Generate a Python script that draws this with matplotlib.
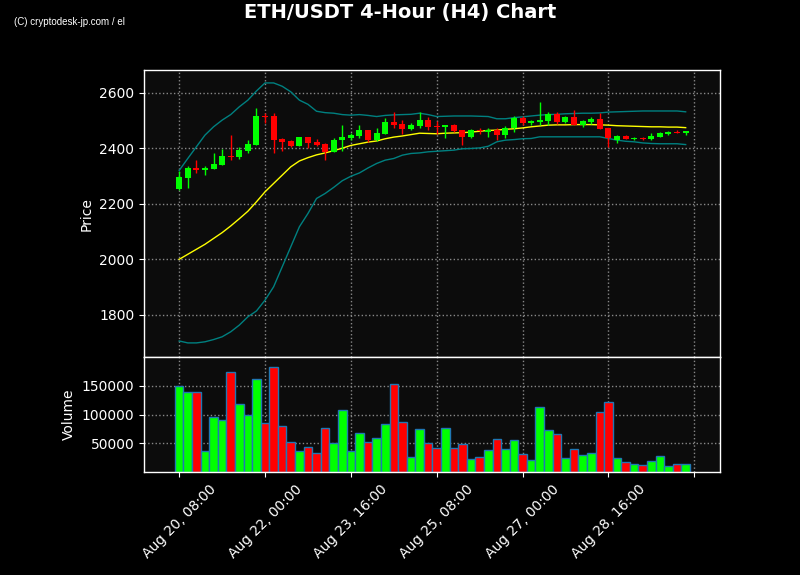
import numpy as np
import pandas as pd
import matplotlib
matplotlib.use("Agg")
import matplotlib.pyplot as plt
from matplotlib.ticker import MultipleLocator, FuncFormatter

# 4h candles
opens = [2252, 2293, 2328, 2322, 2324, 2340, 2371, 2368, 2390, 2411,
         2517, 2515, 2432, 2425, 2408, 2440, 2423, 2414, 2386, 2430,
         2436, 2444, 2465, 2430, 2450, 2494, 2486, 2468, 2479, 2501,
         2479, 2476, 2483, 2464, 2440, 2465, 2460, 2465, 2447, 2473,
         2509, 2490, 2494, 2497, 2522, 2494, 2512, 2485, 2494, 2504,
         2472, 2431, 2443, 2432, 2437, 2432, 2440, 2450, 2459, 2454]
highs = [2317, 2335, 2359, 2336, 2381, 2396, 2446, 2405, 2431, 2546,
         2528, 2527, 2438, 2429, 2442, 2442, 2434, 2417, 2436, 2483,
         2455, 2485, 2467, 2474, 2507, 2532, 2501, 2489, 2532, 2513,
         2497, 2483, 2486, 2465, 2468, 2472, 2474, 2472, 2479, 2515,
         2515, 2501, 2566, 2532, 2532, 2515, 2536, 2503, 2512, 2525,
         2472, 2446, 2446, 2442, 2441, 2453, 2458, 2462, 2467, 2461]
lows = [2248, 2255, 2309, 2305, 2324, 2340, 2357, 2362, 2383, 2411,
        2489, 2384, 2389, 2405, 2408, 2401, 2407, 2356, 2386, 2389,
        2429, 2435, 2424, 2426, 2450, 2472, 2452, 2466, 2471, 2464,
        2452, 2438, 2458, 2413, 2436, 2450, 2442, 2431, 2438, 2460,
        2485, 2482, 2485, 2485, 2486, 2491, 2485, 2476, 2486, 2468,
        2406, 2420, 2432, 2429, 2430, 2429, 2440, 2448, 2454, 2448]
closes = [2295, 2327, 2322, 2329, 2342, 2371, 2367, 2393, 2414, 2515,
          2513, 2430, 2423, 2408, 2440, 2419, 2412, 2387, 2431, 2440,
          2447, 2465, 2429, 2454, 2494, 2484, 2468, 2483, 2501, 2477,
          2476, 2483, 2461, 2440, 2465, 2461, 2465, 2447, 2471, 2508,
          2489, 2498, 2502, 2522, 2494, 2512, 2485, 2497, 2504, 2468,
          2435, 2443, 2432, 2437, 2433, 2443, 2454, 2459, 2455, 2461]
volumes = [149400, 139100, 139100, 37400, 96000, 90800, 173600, 118400, 99400, 161500,
           85600, 182200, 81000, 52900, 37400, 44300, 33900, 77000, 51100, 108000,
           37400, 68400, 52900, 59800, 83900, 152900, 87400, 27000, 75300, 51100,
           42500, 77000, 42500, 49400, 23600, 27000, 39100, 58000, 40800, 56300,
           32200, 21800, 113200, 73600, 66700, 25300, 40800, 30500, 33900, 104600,
           121800, 25300, 16700, 13200, 11500, 18400, 28700, 9800, 14900, 13200]

# indicator lines (yellow MA, bollinger upper/lower)
ma_line = [2000, 2018, 2036, 2054, 2075, 2096, 2120, 2146, 2173, 2207,
           2243, 2273, 2303, 2333, 2354, 2366, 2376, 2383, 2391, 2400,
           2410, 2416, 2422, 2426, 2434, 2440, 2444, 2449, 2454, 2453,
           2452, 2454, 2455, 2456, 2458, 2461, 2464, 2465, 2468, 2470,
           2473, 2477, 2480, 2483, 2484, 2484, 2485, 2485, 2485, 2484,
           2483, 2481, 2480, 2479, 2478, 2477, 2477, 2476, 2476, 2474]
bb_upper = [2320, 2363, 2405, 2447, 2477, 2501, 2521, 2549, 2573, 2606,
            2635, 2635, 2623, 2603, 2573, 2558, 2533, 2528, 2526, 2521,
            2519, 2521, 2518, 2514, 2518, 2520, 2521, 2522, 2526, 2521,
            2514, 2515, 2516, 2516, 2516, 2515, 2514, 2506, 2506, 2510,
            2513, 2516, 2519, 2521, 2522, 2524, 2525, 2526, 2526, 2527,
            2530, 2531, 2532, 2533, 2534, 2534, 2534, 2534, 2534, 2531]
bb_lower = [1706, 1699, 1699, 1703, 1711, 1721, 1739, 1763, 1793, 1814,
            1853, 1901, 1973, 2045, 2117, 2165, 2219, 2237, 2259, 2283,
            2299, 2311, 2329, 2345, 2357, 2363, 2375, 2381, 2383, 2387,
            2389, 2391, 2393, 2398, 2399, 2401, 2407, 2423, 2429, 2431,
            2434, 2435, 2441, 2441, 2441, 2441, 2441, 2441, 2441, 2441,
            2435, 2429, 2425, 2423, 2419, 2417, 2416, 2416, 2416, 2413]

times = pd.date_range("2024-08-20 08:00", periods=len(closes), freq="4h")
vol_ticks = [50000, 100000, 150000]

UP = "#00ff00"
DOWN = "#ff0000"
BG = "#0c0c0c"

fig = plt.figure(figsize=(8, 5.75), dpi=100, facecolor="black")
ax = fig.add_axes([0.18, 0.379, 0.72, 0.499], facecolor=BG)
axv = fig.add_axes([0.18, 0.179, 0.72, 0.200], facecolor=BG, sharex=ax)

idx = np.arange(len(closes))
o = np.array(opens)
c = np.array(closes)
colors = [UP if cc >= oo else DOWN for oo, cc in zip(o, c)]

# wicks then bodies
ax.vlines(idx, lows, highs, colors=colors, linewidth=1, zorder=2)
ax.bar(idx, np.abs(c - o), bottom=np.minimum(o, c), width=0.7,
       color=colors, zorder=3)

ax.plot(idx, bb_upper, color="#008080", linewidth=1, zorder=1)
ax.plot(idx, bb_lower, color="#008080", linewidth=1, zorder=1)
ax.plot(idx, ma_line, color="yellow", linewidth=1, zorder=1)

axv.bar(idx, volumes, width=1.0, color=colors, edgecolor="#1f77b4",
        linewidth=1, zorder=2)

ax.set_xlim(-4.1, 63)
ax.set_ylim(1648, 2681)
axv.set_ylim(0, 200000)
axv.set_yticks(vol_ticks)

ax.set_ylabel("Price", color="white", fontsize=10)
axv.set_ylabel("Volume", color="white", fontsize=10)

axv.xaxis.set_major_locator(MultipleLocator(10))


def fmt_time(x, pos):
    i = int(round(x))
    if 0 <= i < len(times):
        return times[i].strftime("%b %d, %H:%M")
    return ""


axv.xaxis.set_major_formatter(FuncFormatter(fmt_time))
plt.setp(ax.get_xticklabels(), visible=False)
plt.setp(axv.get_xticklabels(), rotation=45)

for a in (ax, axv):
    a.grid(True, color="#888888", linestyle=":", linewidth=1, zorder=0)
    a.set_axisbelow(True)
    a.tick_params(colors="white", labelsize=10)
    for sp in a.spines.values():
        sp.set_color("white")
        sp.set_linewidth(1)

fig.text(0.5, 0.978, "ETH/USDT 4-Hour (H4) Chart", ha="center", va="center",
         color="white", fontsize=14, fontweight="bold")
fig.text(0.018, 0.961, "(C) cryptodesk-jp.com / el", ha="left", va="center",
         color="white", fontsize=7, family="Liberation Sans")

fig.savefig("out.png", dpi=100, facecolor="black")
plt.close(fig)
